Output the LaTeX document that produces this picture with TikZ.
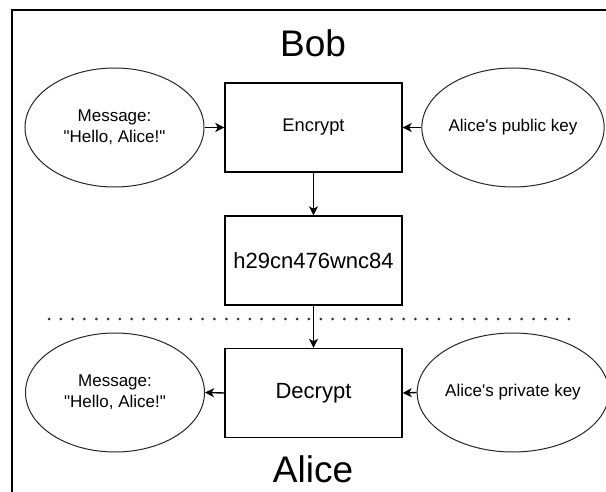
\documentclass[tikz,border=0pt]{standalone}
\usepackage{fontspec}
\setmainfont{Liberation Sans}[Ligatures=TeXOff]
\usetikzlibrary{shapes.geometric,arrows.meta}
\begin{document}
\begin{tikzpicture}[x=1pt,y=-1pt,
  boxnode/.style={draw, line width=1.4pt, minimum width=177pt, minimum height=89pt, inner sep=0pt},
  ellnode/.style={draw=black!85, ellipse, line width=1pt, minimum width=179pt, minimum height=119pt, inner sep=0pt, align=center, font=\fontsize{17}{21}\selectfont},
  arr/.style={line width=1.4pt, -{Stealth[length=9pt,width=9pt,inset=2.5pt]}},
  titletext/.style={font=\fontsize{37}{40}\selectfont, inner sep=0pt},
  dotline/.style={line width=3pt, line cap=round, dash pattern=on 0pt off 11.818pt, draw=black!80},
  framestyle/.style={line width=2pt}
]
\useasboundingbox (0,0) rectangle (606,492);
% frame
\coordinate (f1) at (606,10);
\coordinate (f2) at (12,10);
\coordinate (f3) at (12,492);
\draw[framestyle] (f1) -- (f2) -- (f3);
% dotted separator
\coordinate (d1) at (49,319);
\coordinate (d2) at (569,319);
\draw[dotline] (d1) -- (d2);
% titles
\node[titletext] (bob) at (313,43.5) {Bob};
\node[titletext] (alice) at (313,469) {Alice};
% nodes
\node[ellnode] (m1) at (114.5,127.5) {Message:\\"Hello, Alice!"};
\node[boxnode, font=\fontsize{18.3}{22}\selectfont] (enc) at (313.5,127.5) {Encrypt};
\node[ellnode] (pub) at (513,127.5) {Alice's public key};
\node[boxnode, font=\fontsize{22}{26}\selectfont] (h) at (313.5,260.5) {h29cn476wnc84};
\node[boxnode, font=\fontsize{22}{26}\selectfont] (dec) at (313.5,393) {Decrypt};
\node[ellnode] (m2) at (115,392.5) {Message:\\"Hello, Alice!"};
\node[ellnode] (priv) at (513,392.5) {Alice's private key};
% connectors
\draw[arr] (m1.east) -- (enc.west);
\draw[arr] (pub.west) -- (enc.east);
\draw[arr] (enc.south) -- (h.north);
\draw[arr] (h.south) -- (dec.north);
\draw[arr] (dec.west) -- (m2.east);
\draw[arr] (priv.west) -- (dec.east);
\end{tikzpicture}
\end{document}
